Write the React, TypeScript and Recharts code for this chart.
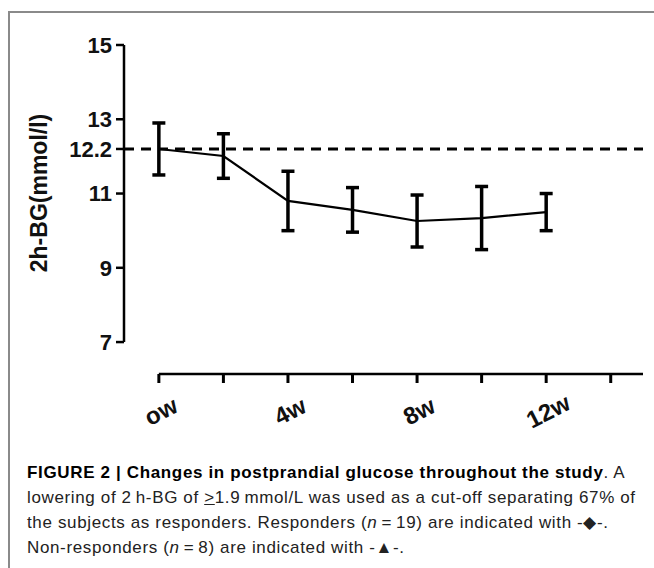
import React from 'react';
import {
  ComposedChart,
  Line,
  XAxis,
  YAxis,
  ErrorBar,
  ReferenceLine,
} from 'recharts';

// weeks from the start of the study
const weeks = [0, 2, 4, 6, 8, 10, 12];
// mean 2h-BG (mmol/l) and error bar half-length
const meanBG = [12.2, 12.01, 10.8, 10.56, 10.26, 10.34, 10.5];
const errBG = [0.7, 0.6, 0.8, 0.6, 0.7, 0.85, 0.5];

const yTicks = [7, 9, 11, 12.2, 13, 15];
const xTicks = [0, 2, 4, 6, 8, 10, 12, 14];
const xTickLabels: Record<number, string> = { 0: 'ow', 4: '4w', 8: '8w', 12: '12w' };
const threshold = 12.2;

// axis ranges (the y axis stops at 7, the x axis line at 15 weeks)
const yAxisMin = 7;
const yAxisMax = 15;
const xAxisMax = 15;
// scale domains, padded so the two axes sit apart like the original
const xDomain: [number, number] = [-1.08, 15];
const yDomain: [number, number] = [6.14, 15];

const data = weeks.map((w, i) => ({ week: w, bg: meanBG[i], err: errBG[i] }));

const AXIS_FONT = '"Liberation Sans", Arial, sans-serif';

function XTick(props: any) {
  const { x, y, payload } = props;
  const label = xTickLabels[payload.value];
  if (!label) return null;
  const cy = y + 26;
  return (
    <text
      x={x + 2}
      y={cy}
      transform={`rotate(-27 ${x + 2} ${cy})`}
      textAnchor="middle"
      dominantBaseline="central"
      fontFamily={AXIS_FONT}
      fontWeight="bold"
      fontSize={24}
      fill="#111"
    >
      {label}
    </text>
  );
}

export default function App() {
  return (
    <div style={{ position: 'relative', width: 654, height: 568, overflow: 'hidden', background: '#fff' }}>
      <style>{'html,body{margin:0;padding:0;overflow:hidden;background:#fff}'}</style>
      <div
        style={{
          position: 'absolute',
          left: 8,
          top: 11,
          width: 700,
          height: 600,
          borderLeft: '2px solid #8a8a8a',
          borderTop: '2px solid #8a8a8a',
        }}
      />
      <div style={{ position: 'absolute', left: 0, top: 0 }}>
        <ComposedChart
          width={654}
          height={450}
          data={data}
          margin={{ top: 45, right: 11, left: 64, bottom: 0 }}
        >
          <XAxis
            dataKey="week"
            type="number"
            domain={xDomain}
            ticks={xTicks}
            interval={0}
            axisLine={false}
            tickLine={{ stroke: '#000', strokeWidth: 3 }}
            tickSize={9}
            height={76}
            tick={<XTick />}
          />
          <YAxis
            type="number"
            domain={yDomain}
            ticks={yTicks}
            interval={0}
            axisLine={false}
            tickLine={{ stroke: '#000', strokeWidth: 2.5 }}
            tickSize={8}
            tickMargin={4}
            width={60}
            tick={{ fontSize: 22, fontWeight: 'bold', fill: '#111', fontFamily: AXIS_FONT }}
          />
          <ReferenceLine
            segment={[
              { x: xDomain[0], y: yAxisMin },
              { x: xDomain[0], y: yAxisMax },
            ]}
            stroke="#000"
            strokeWidth={2.5}
            ifOverflow="visible"
          />
          <ReferenceLine
            segment={[
              { x: 0, y: yDomain[0] },
              { x: xAxisMax, y: yDomain[0] },
            ]}
            stroke="#000"
            strokeWidth={2.5}
            ifOverflow="visible"
          />
          <ReferenceLine
            y={threshold}
            stroke="#000"
            strokeWidth={3}
            strokeDasharray="10 7"
          />
          <Line
            dataKey="bg"
            stroke="#000"
            strokeWidth={2.2}
            dot={false}
            isAnimationActive={false}
          >
            <ErrorBar dataKey="err" width={6.5} stroke="#000" strokeWidth={3.5} direction="y" />
          </Line>
        </ComposedChart>
      </div>
      <div
        style={{
          position: 'absolute',
          left: 39,
          top: 193,
          transform: 'translate(-50%, -50%) rotate(-90deg)',
          whiteSpace: 'nowrap',
          fontFamily: AXIS_FONT,
          fontWeight: 'bold',
          fontSize: 23,
          color: '#111',
        }}
      >
        2h-BG(mmol/l)
      </div>
      <div
        style={{
          position: 'absolute',
          left: 27,
          top: 460,
          fontFamily: AXIS_FONT,
          fontSize: 17,
          letterSpacing: 0.64,
          lineHeight: '25px',
          color: '#222',
          whiteSpace: 'nowrap',
        }}
      >
        <div>
          <b style={{ color: '#000', letterSpacing: 0.65 }}>FIGURE 2 | Changes in postprandial glucose throughout the study</b>. A
        </div>
        <div>
          lowering of 2{'\u2009'}h-BG of <u>&gt;</u>1.9{'\u2009'}mmol/L was used as a cut-off separating 67% of
        </div>
        <div>
          the subjects as responders. Responders (<i>n</i>{'\u2009'}={'\u2009'}19) are indicated with -{'\u25C6'}-.
        </div>
        <div>
          Non-responders (<i>n</i>{'\u2009'}={'\u2009'}8) are indicated with -{'\u25B2'}-.
        </div>
      </div>
    </div>
  );
}
